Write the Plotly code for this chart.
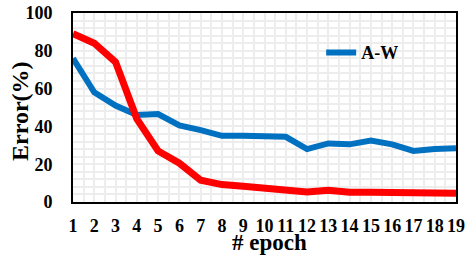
import plotly.graph_objects as go

epochs = list(range(1, 20))
aw_error = [76, 58, 51, 46, 46.5, 40.5, 38, 35, 35, 35, 34.5, 28, 31, 30.5, 32.5, 30.5, 27, 28, 28.5]
red_error = [89, 84, 74, 44, 27, 20.5, 11.5, 9.2, 8.3, 7.1, 6.2, 5.3, 6.2, 5.2, 5.2, 5.2, 5.1, 4.4, 4.6]
y_ticks = [0, 20, 40, 60, 80, 100]

font_family = "Liberation Serif"

fig = go.Figure()
fig.add_trace(go.Scatter(x=epochs, y=aw_error, mode="lines", name="<b>A-W</b>",
                         line=dict(color="#0070C0", width=6)))
fig.add_trace(go.Scatter(x=epochs, y=red_error, mode="lines", showlegend=False,
                         line=dict(color="#FF0000", width=7)))

W, H = 467, 256
L, R, T, B = 73, 11, 13, 54
plot_w = W - L - R
plot_h = H - T - B

grid_color = "#ededed"
fig.update_layout(
    width=W, height=H,
    margin=dict(l=L, r=R, t=T, b=B, autoexpand=False),
    plot_bgcolor="white", paper_bgcolor="white",
    font=dict(family=font_family, color="black"),
    showlegend=True,
    legend=dict(x=0.648, y=0.79, xanchor="left", yanchor="middle",
                bgcolor="rgba(0,0,0,0)", font=dict(size=18, family=font_family),
                itemwidth=30, tracegroupgap=0),
    xaxis=dict(
        range=[1, 19], tickmode="array", tickvals=epochs,
        ticktext=[f"<b>{e}</b>" for e in epochs],
        tickfont=dict(size=18, family=font_family), showline=True, linecolor="black", linewidth=2,
        mirror=True, ticks="", ticklabelstandoff=6, automargin=False,
        showgrid=True, gridcolor=grid_color, gridwidth=1.5,
        minor=dict(dtick=0.5, tick0=1, showgrid=True, gridcolor=grid_color, gridwidth=1.5),
        zeroline=False,
    ),
    yaxis=dict(
        range=[0, 100], tickmode="array", tickvals=y_ticks,
        ticktext=[f"<b>{v}</b>" for v in y_ticks],
        tickfont=dict(size=18, family=font_family), showline=True, linecolor="black", linewidth=2,
        mirror=True, ticks="", ticklabelstandoff=15, automargin=False,
        showgrid=True, gridcolor=grid_color, gridwidth=1.5,
        minor=dict(dtick=4, tick0=0, showgrid=True, gridcolor=grid_color, gridwidth=1.5),
        zeroline=False,
    ),
    annotations=[
        dict(text="<b># epoch</b>", x=(269 - L) / plot_w, y=(H - B - 255.5) / plot_h,
             xref="paper", yref="paper", showarrow=False, borderpad=0,
             font=dict(size=23, family=font_family), xanchor="center", yanchor="bottom"),
        dict(text="<b>Error(%)</b>", x=(20 - L) / plot_w, y=(H - B - 111) / plot_h,
             xref="paper", yref="paper", showarrow=False, textangle=-90,
             font=dict(size=24, family=font_family), xanchor="center", yanchor="middle"),
    ],
)

fig.write_html("out.html", config={"displayModeBar": False})

# remove the browser's default page margin so the figure sits at the window origin
with open("out.html", "r", encoding="utf-8") as f:
    html = f.read()
html = html.replace("<head>", "<head><style>html,body{margin:0;padding:0;overflow:hidden;}</style>", 1)
with open("out.html", "w", encoding="utf-8") as f:
    f.write(html)
